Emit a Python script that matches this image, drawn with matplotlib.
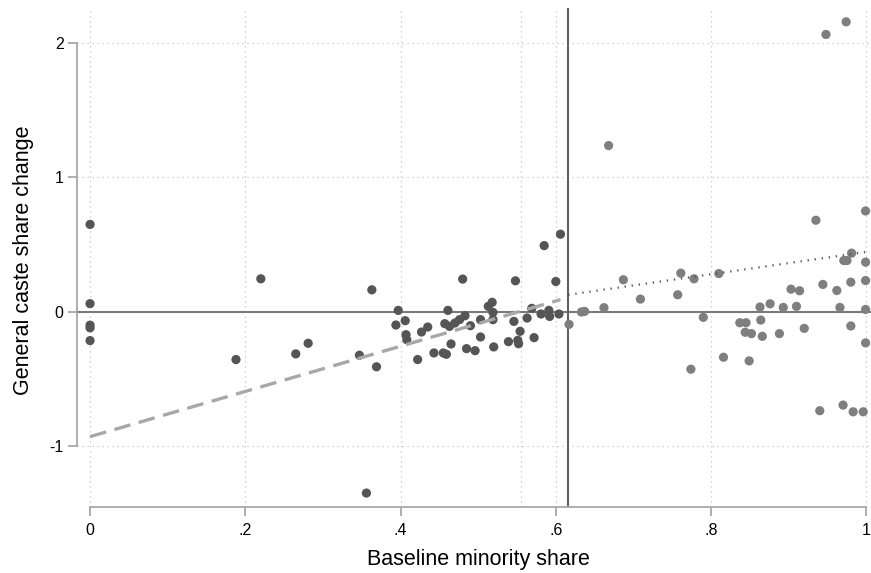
import matplotlib
matplotlib.use("Agg")
import matplotlib.pyplot as plt

plt.rcParams["font.family"] = ["Liberation Sans", "DejaVu Sans"]
plt.rcParams["axes.unicode_minus"] = False

# villages below the cutoff (darker markers)
below_x = [0, 0, 0, 0, 0, 0.188, 0.220, 0.265, 0.281, 0.347, 0.356, 0.363, 0.369,
           0.394, 0.397, 0.406, 0.407, 0.408, 0.422, 0.427, 0.435, 0.443, 0.455,
           0.459, 0.457, 0.461, 0.463, 0.465, 0.470, 0.476, 0.480, 0.483, 0.485,
           0.490, 0.496, 0.503, 0.503, 0.513, 0.518, 0.519, 0.519, 0.520, 0.539,
           0.546, 0.548, 0.551, 0.552, 0.554, 0.563, 0.569, 0.572, 0.581, 0.585,
           0.591, 0.592, 0.600, 0.604, 0.606]
below_y = [0.65, 0.06, -0.10, -0.12, -0.215, -0.356, 0.245, -0.314, -0.235, -0.324,
           -1.35, 0.163, -0.41, -0.099, 0.01, -0.067, -0.171, -0.208, -0.356, -0.151,
           -0.114, -0.307, -0.307, -0.317, -0.089, 0.01, -0.109, -0.24, -0.084,
           -0.059, 0.243, -0.03, -0.275, -0.104, -0.29, -0.059, -0.188, 0.04, 0.07,
           -0.005, -0.059, -0.262, -0.223, -0.072, 0.23, -0.213, -0.238, -0.146,
           -0.047, 0.025, -0.193, -0.017, 0.492, 0.01, -0.035, 0.225, -0.017, 0.577]

# villages above the cutoff (lighter markers)
above_x = [0.617, 0.633, 0.637, 0.662, 0.668, 0.687, 0.709, 0.757, 0.761, 0.774,
           0.778, 0.790, 0.810, 0.816, 0.837, 0.845, 0.844, 0.852, 0.849, 0.863,
           0.864, 0.866, 0.876, 0.888, 0.893, 0.903, 0.910, 0.914, 0.920, 0.935,
           0.940, 0.944, 0.948, 0.962, 0.966, 0.970, 0.971, 0.975, 0.974, 0.980,
           0.980, 0.981, 0.983, 0.996, 0.999, 0.999, 0.999, 0.999, 0.999]
above_y = [-0.094, -0.002, 0.002, 0.03, 1.237, 0.238, 0.094, 0.126, 0.287, -0.428,
           0.245, -0.042, 0.284, -0.339, -0.082, -0.082, -0.153, -0.163, -0.366,
           0.035, -0.062, -0.183, 0.059, -0.163, 0.032, 0.168, 0.04, 0.156, -0.124,
           0.681, -0.737, 0.203, 2.064, 0.158, 0.032, -0.695, 0.381, 0.381, 2.158,
           0.22, -0.106, 0.436, -0.745, -0.745, 0.75, 0.369, 0.232, 0.017, -0.232]

# linear fits on each side of the cutoff
fit_below_x = [0, 0.606]
fit_below_y = [-0.93, 0.09]
fit_above_x = [0.616, 1.0]
fit_above_y = [0.126, 0.445]

cutoff = 0.616
mean_line = 0.555

x_ticks = [0, 0.2, 0.4, 0.6, 0.8, 1]
x_tick_labels = ["0", ".2", ".4", ".6", ".8", "1"]
y_ticks = [-1, 0, 1, 2]
y_tick_labels = ["-1", "0", "1", "2"]

fig = plt.figure(figsize=(8.71, 5.73), dpi=100)
ax = fig.add_axes([77 / 871, 1 - 507.3 / 573, 794 / 871, 499.3 / 573])

grid_style = dict(color="#c4c4c4", lw=0.9, ls=(0, (1, 3)), zorder=0)
for xv in x_ticks + [mean_line]:
    ax.axvline(xv, **grid_style)
for yv in y_ticks:
    ax.axhline(yv, **grid_style)

ax.axhline(0, color="#7a7a7a", lw=1.5, zorder=1)
ax.axvline(cutoff, color="#606060", lw=1.5, zorder=1)

ax.scatter(below_x, below_y, s=44, color="#555555", edgecolors="none", zorder=3)
ax.scatter(above_x, above_y, s=44, color="#7f7f7f", edgecolors="none", zorder=3)

ax.plot(fit_below_x, fit_below_y, color="#a8a8a8", lw=2.4, ls=(0, (5, 2.6)), zorder=4)
ax.plot(fit_above_x, fit_above_y, color="#555555", lw=1.6, ls=(0, (0.6, 2.6)), zorder=4)

ax.set_xlim(-0.0168, 1.006)
ax.set_ylim(-1.456, 2.261)

ax.set_xticks(x_ticks)
ax.set_xticklabels(x_tick_labels)
ax.set_yticks(y_ticks)
ax.set_yticklabels(y_tick_labels)
ax.tick_params(axis="both", labelsize=11.5, color="#a8a8a8", width=1.3, length=6.2)
ax.tick_params(axis="x", pad=5)
ax.tick_params(axis="y", pad=3.5)

for side in ["top", "right"]:
    ax.spines[side].set_visible(False)
for side in ["left", "bottom"]:
    ax.spines[side].set_color("#a8a8a8")
    ax.spines[side].set_linewidth(1.3)
ax.spines["left"].set_bounds(-1, 2)
ax.spines["bottom"].set_bounds(0, 1)

fig.text(478 / 871, 1 - 565.5 / 573, "Baseline minority share", fontsize=15.5,
         ha="center", va="baseline")
fig.text(23.5 / 871, 1 - 260 / 573, "General caste share change", fontsize=15.5,
         rotation=90, ha="center", va="center")

fig.savefig("out.png", dpi=100)
